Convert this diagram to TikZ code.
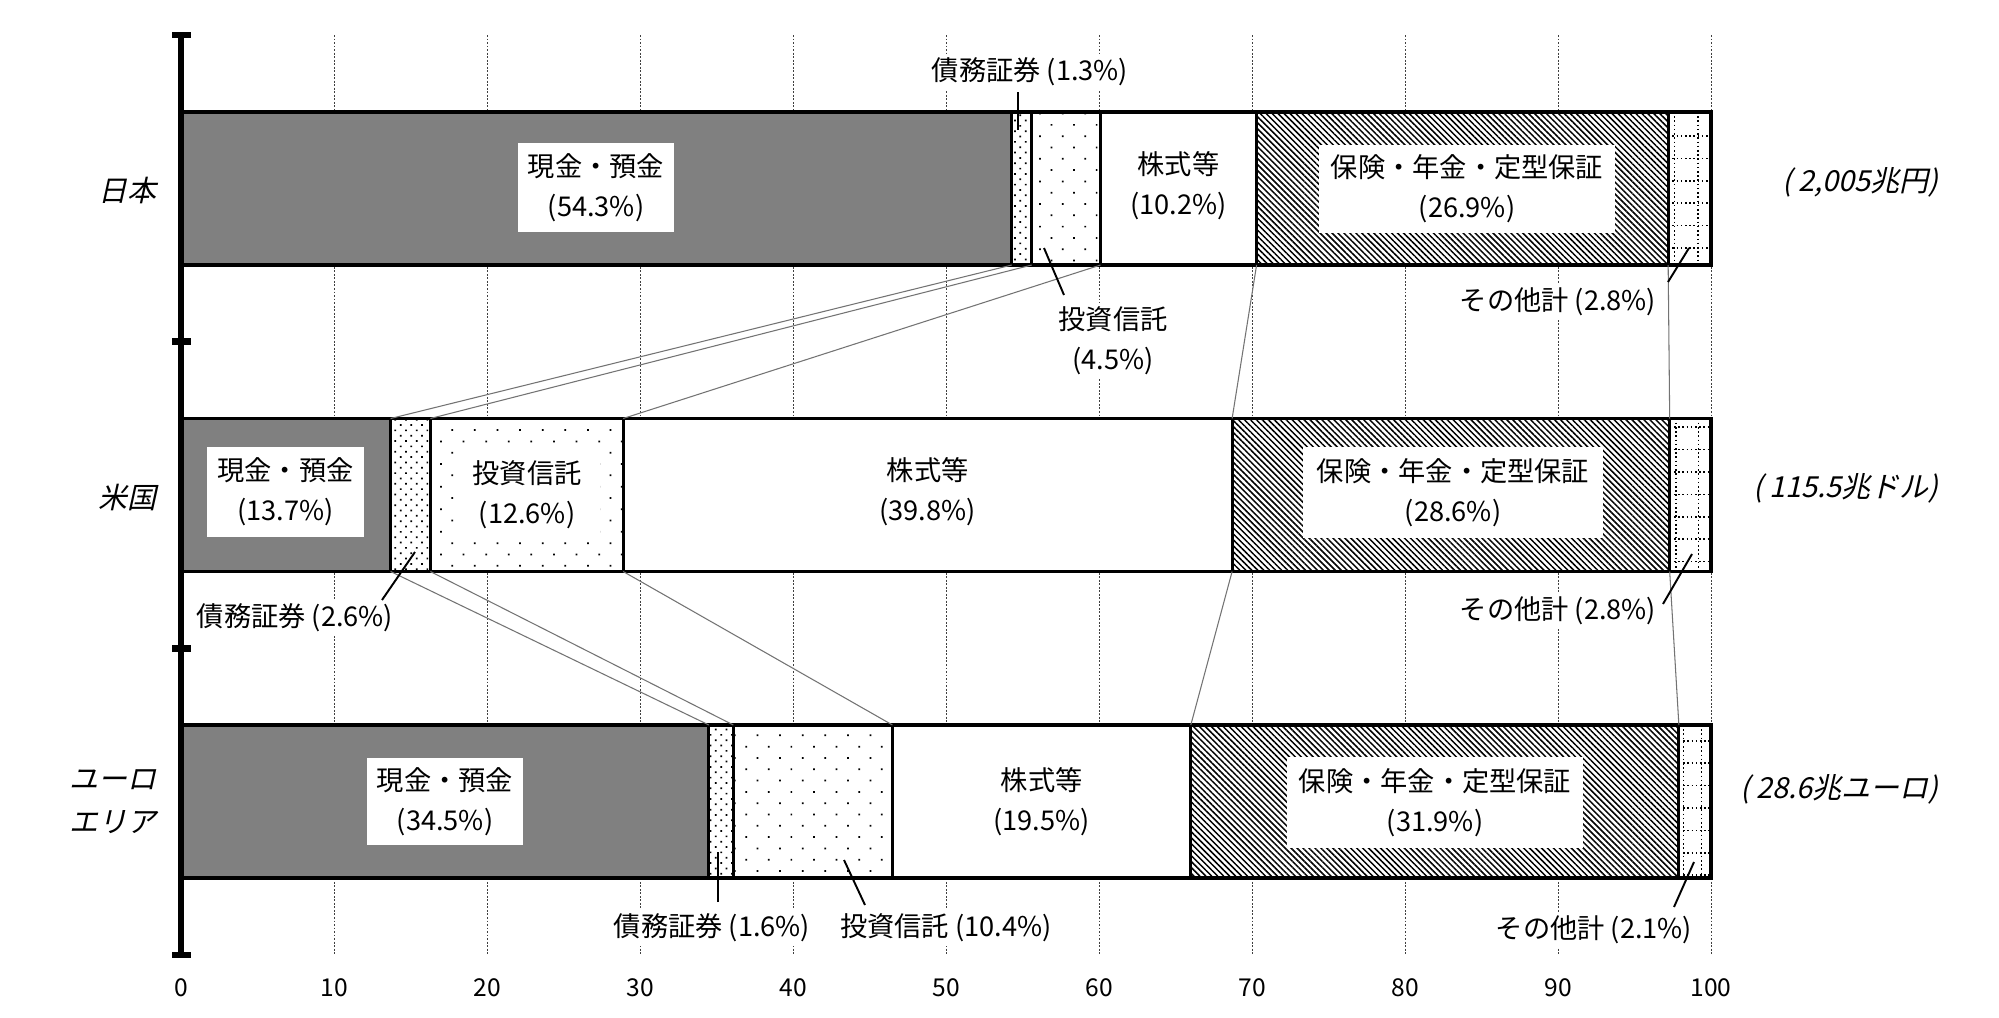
\documentclass[tikz,border=0pt]{standalone}
\usepackage{fontspec}
\setmainfont{Noto Sans CJK JP}
\newfontfamily\slfont[FakeSlant=0.22]{Noto Sans CJK JP}
\usetikzlibrary{patterns,patterns.meta}
\newcommand\X[1]{181+15.3*(#1)}
\tikzset{
  gridl/.style={black!75,line width=0.5pt,dash pattern=on 1.1pt off 0.9pt},
  conn/.style={black!55,line width=0.6pt},
  leader/.style={black,line width=1.1pt},
  barline/.style={black,line width=2pt},
  divider/.style={black,line width=1.8pt},
  gdot/.style={black,line width=0.9pt,dash pattern=on 0.9pt off 1.5pt},
  cash/.style={fill=black!50},
  bond/.style={pattern={Dots[angle=45,distance=4.3pt,radius=0.68pt]}},
  fund/.style={pattern={Dots[angle=45,distance=9.1pt,radius=0.7pt]}},
  ins/.style={pattern={Lines[angle=-45,distance=2.4pt,line width=0.85pt]}},
  lbl/.style={font=\fontsize{15.5pt}{22.8pt}\selectfont,align=center,inner sep=1pt},
  wlbl/.style={lbl,fill=white,inner sep=2pt},
  box/.style={lbl,fill=white,inner sep=0pt},
  cty/.style={font=\fontsize{16.5pt}{24.5pt}\slfont,align=right,anchor=east,inner sep=0pt},
  tot/.style={font=\fontsize{16.5pt}{20pt}\slfont,anchor=east,inner sep=0pt},
  axlbl/.style={font=\fontsize{14pt}{16pt}\selectfont,inner sep=0pt},
  axisline/.style={black,line width=3.6pt},
  tickmark/.style={black,line width=3.8pt}
}
% #1 name, #2 top, #3 bottom, #4..#8 boundaries
\newcommand\drawbar[8]{%
  \fill[white] ({\X{0}},#2) rectangle ({\X{100}},#3);
  \path[cash] ({\X{0}},#2) rectangle ({\X{#4}},#3);
  \path[bond] ({\X{#4}},#2) rectangle ({\X{#5}},#3);
  \path[fund] ({\X{#5}},#2) rectangle ({\X{#6}},#3);
  \path[ins] ({\X{#7}},#2) rectangle ({\X{#8}},#3);
  \begin{scope}
    \clip ({\X{#8}},#2) rectangle ({\X{100}},#3);
    \foreach \yy in {136,158.4,...,890} \draw[gdot] ({\X{#8}},\yy) -- ({\X{100}},\yy);
    \draw[gdot] ({\X{#8+0.15*(100-#8)}},#2) -- ({\X{#8+0.15*(100-#8)}},#3);
    \draw[gdot] ({\X{#8+0.7*(100-#8)}},#2) -- ({\X{#8+0.7*(100-#8)}},#3);
  \end{scope}
  \foreach \b/\n in {#4/1,#5/2,#6/3,#7/4,#8/5}{%
    \draw[divider] ({\X{\b}},#2) -- ({\X{\b}},#3);
    \coordinate (#1t\n) at ({\X{\b}},#2);
    \coordinate (#1b\n) at ({\X{\b}},#3);
  }
  \draw[barline] ({\X{0}},#2) rectangle ({\X{100}},#3);
}
\begin{document}
\begin{tikzpicture}[x=0.02cm,y=-0.02cm]
\useasboundingbox (0,0) rectangle (1999,1018);
\fill[white] (0,0) rectangle (1999,1018);
% grid lines
\foreach \v in {10,20,...,100} \draw[gridl] ({\X{\v}},35) -- ({\X{\v}},955);
% bars
\drawbar{j}{112}{265}{54.3}{55.6}{60.1}{70.3}{97.2}
\drawbar{u}{418.5}{571.5}{13.7}{16.3}{28.9}{68.7}{97.3}
\drawbar{e}{725}{878}{34.5}{36.1}{46.5}{66.0}{97.9}
% connectors between bars
\foreach \i in {1,...,5} \draw[conn] (jb\i) -- (ut\i);
\foreach \i in {1,...,5} \draw[conn] (ub\i) -- (et\i);
% axis
\coordinate (axtop) at (181,35);
\coordinate (axbot) at (181,955);
\draw[axisline] (axtop) -- (axbot);
\foreach \yy in {35,341.7,648.3,955} \draw[tickmark] (172,\yy) -- (191,\yy);
\foreach \v in {0,10,...,100} \node[axlbl] (ax\v) at ({\X{\v}},988) {\v};
% country labels
\node[cty] (cjp) at (157,190) {日本};
\node[cty] (cus) at (157,497) {米国};
\node[cty] (ceu) at (157,801.5) {ユーロ\\エリア};
% totals
\node[tot] (tjp) at (1939,182) {( 2,005兆円)};
\node[tot] (tus) at (1939,488) {( 115.5兆ドル)};
\node[tot] (teu) at (1939,789) {( 28.6兆ユーロ)};
% Japan labels
\node[box,minimum width=156*0.02cm,minimum height=89*0.02cm] (jcash) at (596,187.5) {現金・預金\\(54.3\%)};
\node[lbl] (jstk) at ({\X{65.2}},185.5) {株式等\\(10.2\%)};
\node[box,minimum width=296*0.02cm,minimum height=88*0.02cm] (jins) at (1467,189) {保険・年金・定型保証\\(26.9\%)};
\node[wlbl] (jbond) at (1030,72) {債務証券 (1.3\%)};
\node[wlbl] (jfund) at (1113,341) {投資信託\\(4.5\%)};
\node[wlbl] (joth) at (1558,302) {その他計 (2.8\%)};
% US labels
\node[box,minimum width=157*0.02cm,minimum height=90*0.02cm] (ucash) at (285.5,492) {現金・預金\\(13.7\%)};
\node[box,minimum width=145*0.02cm,minimum height=90*0.02cm] (ufund) at (527,495) {投資信託\\(12.6\%)};
\node[lbl] (ustk) at ({\X{48.8}},492) {株式等\\(39.8\%)};
\node[box,minimum width=300*0.02cm,minimum height=91*0.02cm] (uins) at (1453,492.5) {保険・年金・定型保証\\(28.6\%)};
\node[wlbl] (ubond) at (295,618) {債務証券 (2.6\%)};
\node[wlbl] (uoth) at (1558,611) {その他計 (2.8\%)};
% Euro labels
\node[box,minimum width=156*0.02cm,minimum height=87*0.02cm] (ecash) at (445,801.5) {現金・預金\\(34.5\%)};
\node[lbl] (estk) at ({\X{56.25}},802) {株式等\\(19.5\%)};
\node[box,minimum width=296*0.02cm,minimum height=91*0.02cm] (eins) at (1435,802.5) {保険・年金・定型保証\\(31.9\%)};
\node[wlbl] (ebond) at (712,928) {債務証券 (1.6\%)};
\node[wlbl] (efund) at (946,928) {投資信託 (10.4\%)};
\node[wlbl] (eoth) at (1594,930) {その他計 (2.1\%)};
% leader lines
\coordinate (l1a) at (1018,92);   \coordinate (l1b) at (1018,130);
\coordinate (l2a) at (1064,295);  \coordinate (l2b) at (1044,248);
\coordinate (l3a) at (1668,282);  \coordinate (l3b) at (1689,248);
\coordinate (l4a) at (382,600);   \coordinate (l4b) at (415,552);
\coordinate (l5a) at (1663,604);  \coordinate (l5b) at (1692,554);
\coordinate (l6a) at (718,902);   \coordinate (l6b) at (718,852);
\coordinate (l7a) at (865,905);   \coordinate (l7b) at (844,860);
\coordinate (l8a) at (1674,907);  \coordinate (l8b) at (1694,862);
\foreach \i in {1,...,8} \draw[leader] (l\i a) -- (l\i b);
\end{tikzpicture}
\end{document}
